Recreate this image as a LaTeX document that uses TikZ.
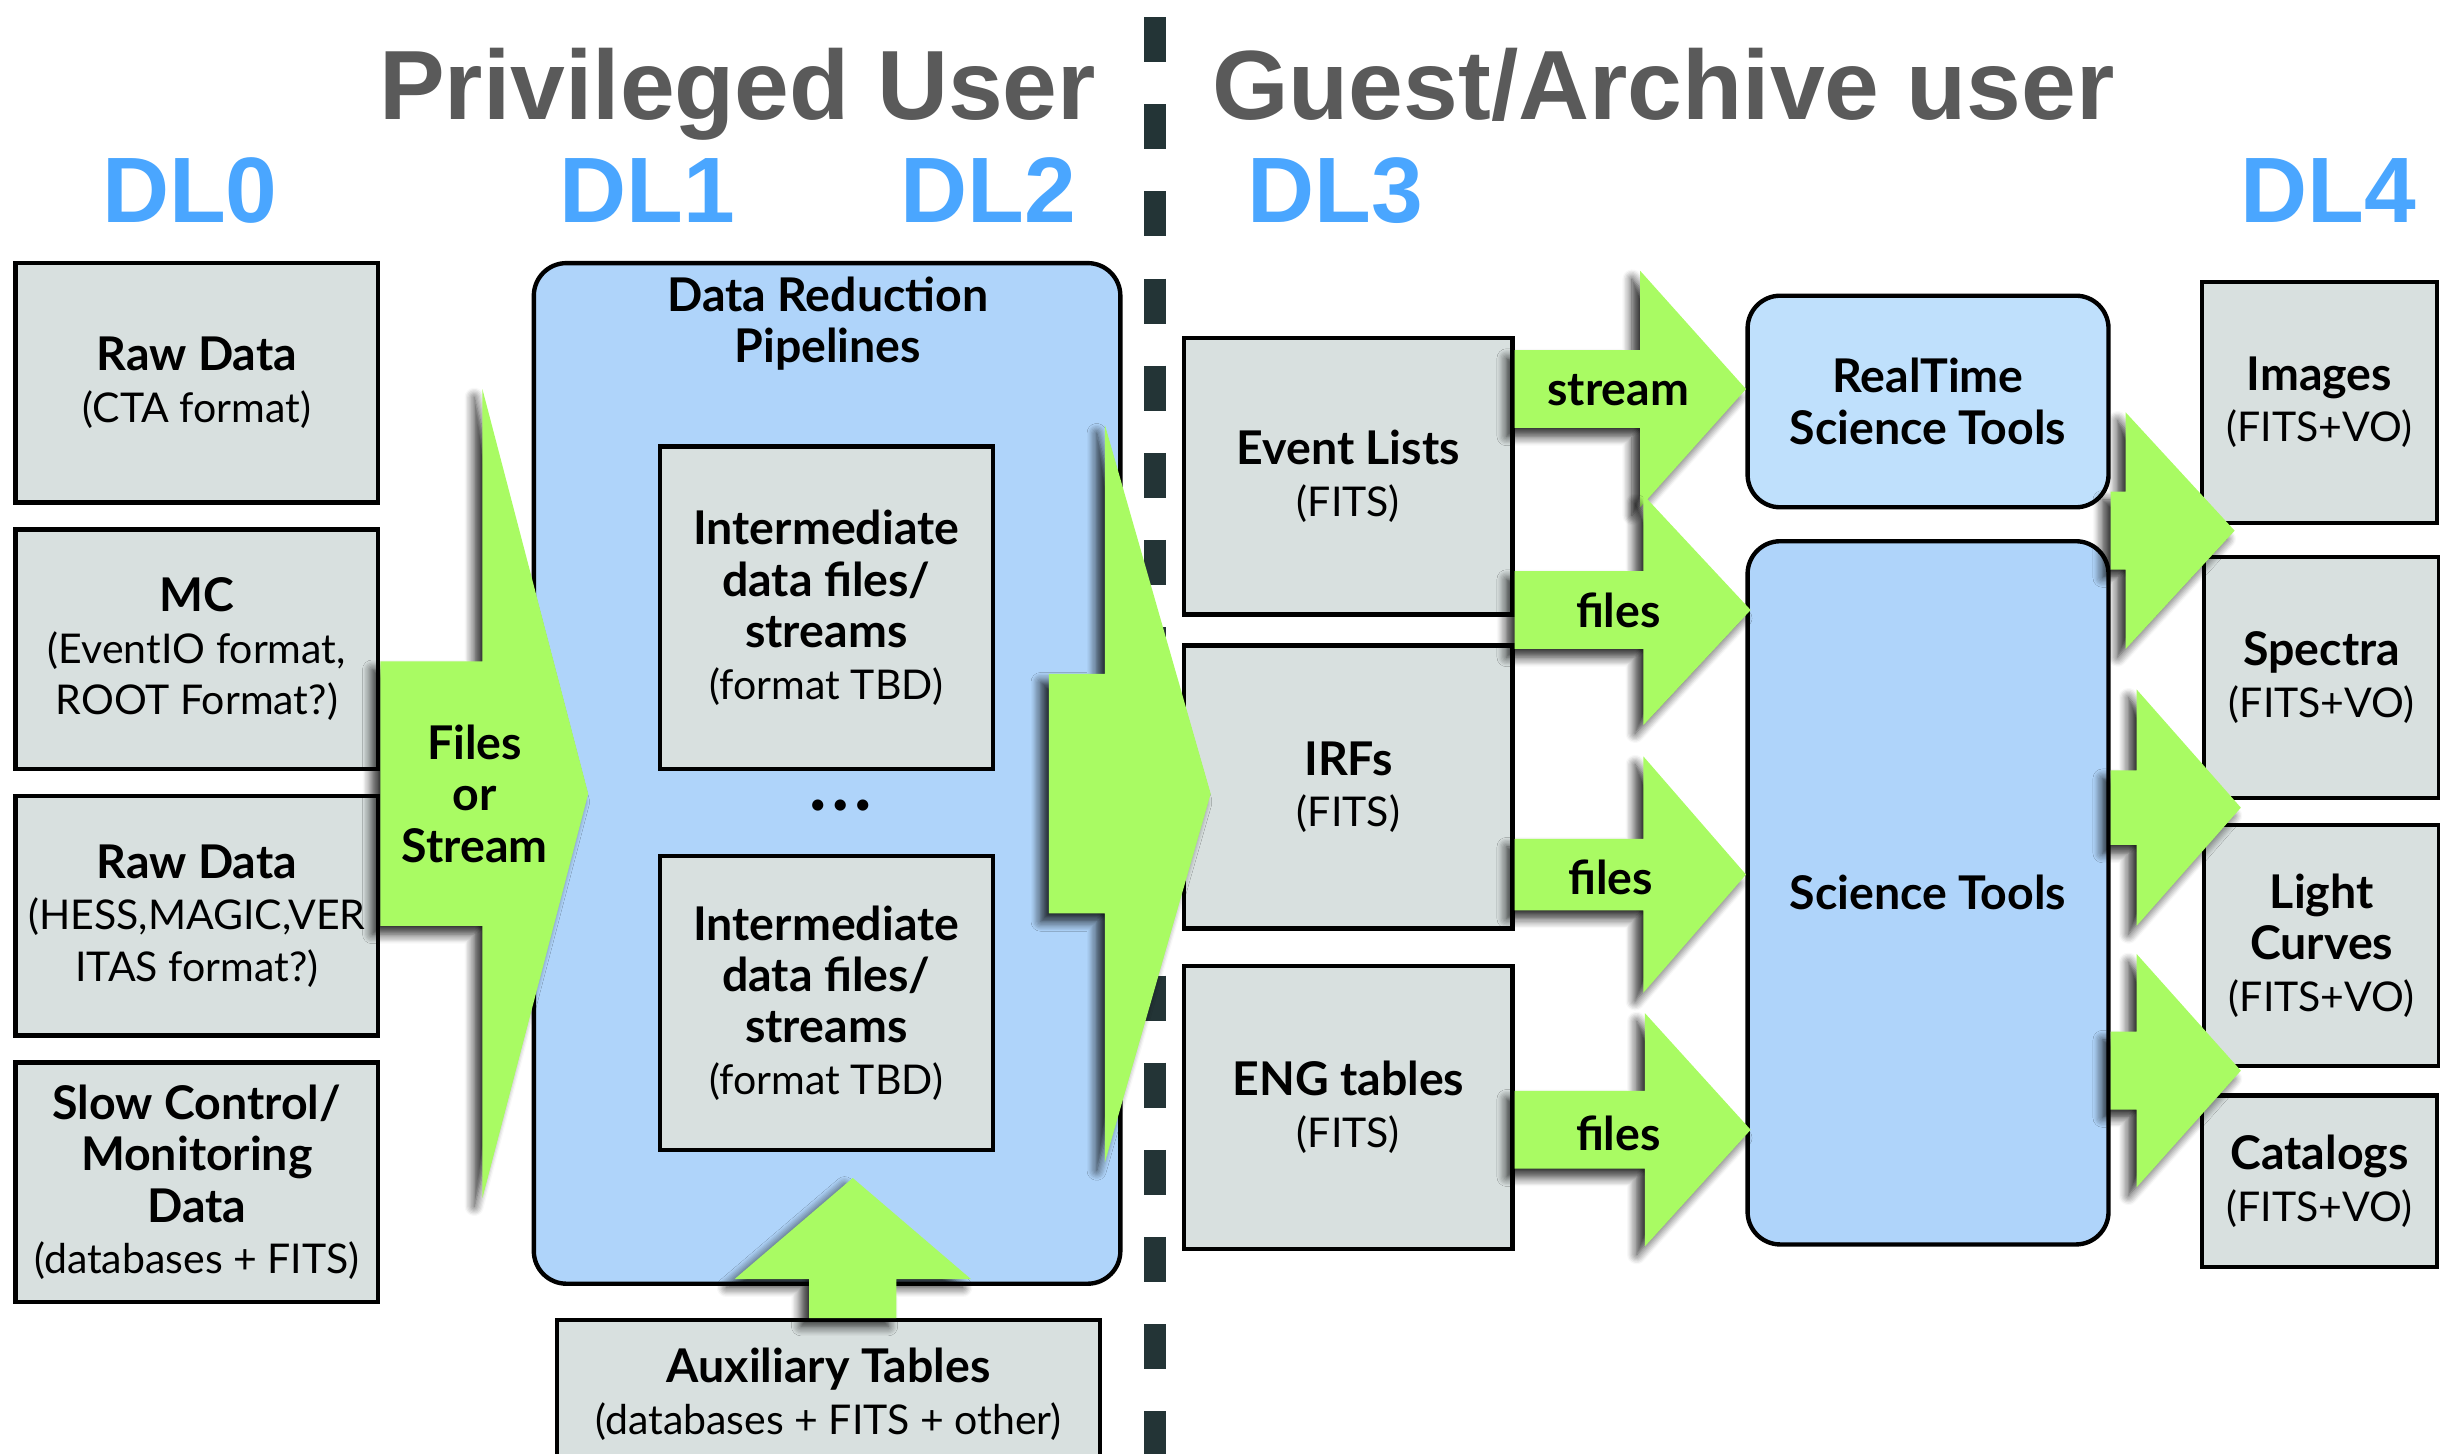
\documentclass[tikz,border=0pt]{standalone}
\usepackage{fontspec}
\setmainfont{Lato}
\newfontfamily\headfont{Liberation Sans}
\usetikzlibrary{positioning,calc,shadows.blur}

\definecolor{boxgray}{RGB}{216,224,223}
\definecolor{pipeblue}{RGB}{175,212,250}
\definecolor{rtblue}{RGB}{191,224,252}
\definecolor{flowgreen}{RGB}{169,251,99}
\definecolor{splitgray}{RGB}{35,52,54}
\definecolor{levelblue}{RGB}{74,166,255}
\definecolor{usergray}{RGB}{90,90,90}

\newcommand{\hd}[1]{{\fontsize{17}{18.8}\selectfont\bfseries #1}}
\newcommand{\flowarrow}[5]{%
  \fill[flow] (#1 |- #2) ++(0,-#4) -| ($(#2)+(-#3,-#5)$) -- (#2)
    -- ($(#2)+(-#3,#5)$) |- ($(#1 |- #2)+(0,#4)$) -- cycle;}

\begin{document}
\begin{tikzpicture}[x=0.02cm, y=-0.02cm,
		databox/.style={draw=black, line width=1.6pt, fill=boxgray, align=center, inner sep=2pt, font=\fontsize{15}{18.8}\selectfont},
		toolbox/.style={databox, fill=pipeblue, rounded corners=0.42cm},
		flow/.style={fill=flowgreen, blur shadow={shadow xshift=-3pt, shadow yshift=-3pt, shadow blur radius=3.5pt, shadow blur steps=8, shadow opacity=85}},
		flowtext/.style={font=\fontsize{17}{18.8}\selectfont\bfseries, align=center},
		level/.style={font=\headfont\bfseries\fontsize{34}{36}\selectfont, text=levelblue},
		role/.style={font=\headfont\bfseries\fontsize{36}{40}\selectfont, text=usergray}
	]
	\useasboundingbox (0,0) rectangle (1568,934);

	\coordinate (splittop) at (742,11);
	\coordinate (splitbot) at (742,960);
	\draw[splitgray, line width=0.28cm, dash pattern=on 0.58cm off 0.54cm] (splittop) -- (splitbot);

	\node[role, anchor=base] (privileged) at (474,77) {Privileged User};
	\node[role, anchor=base] (guest) at (1069,77) {Guest/Archive user};
	\node[level, anchor=base] (dl0) at (122,143) {DL0};
	\node[level, anchor=base] (dl1) at (416,143) {DL1};
	\node[level, anchor=base] (dl2) at (635,143) {DL2};
	\node[level, anchor=base] (dl3) at (858,143) {DL3};
	\node[level, anchor=base] (dl4) at (1496,143) {DL4};

	\node[databox, minimum width=4.66cm, minimum height=3.08cm] (raw) at (126.5,246) {\hd{Raw Data}\\(CTA format)};
	\node[databox, minimum width=4.66cm, minimum height=3.08cm, below=0.29cm of raw] (mc) {\hd{MC}\\(EventIO format,\\ROOT Format?)};
	\node[databox, minimum width=4.66cm, minimum height=3.08cm, below=0.29cm of mc] (hess) {\hd{Raw Data}\\(HESS,MAGIC,VER\\ITAS format?)};
	\node[databox, minimum width=4.66cm, minimum height=3.08cm, below=0.29cm of hess] (slow) {\hd{Slow Control/}\\\hd{Monitoring}\\\hd{Data}\\(databases + FITS)};

	\node[toolbox, minimum width=7.54cm, minimum height=13.12cm] (pipe) at (531.5,497) {};
	\node[flowtext] (pipetitle) at (532,208) {Data Reduction\\Pipelines};
	\node[databox, minimum width=4.28cm, minimum height=4.14cm] (inter1) at (531,390.5) {\hd{Intermediate}\\\hd{data files/}\\\hd{streams}\\(format TBD)};
	\node[font=\fontsize{11}{12}\selectfont] (dots) at (540,519) {\textbullet\,\textbullet\,\textbullet};
	\node[databox, minimum width=4.28cm, minimum height=3.78cm] (inter2) at (531,644.5) {\hd{Intermediate}\\\hd{data files/}\\\hd{streams}\\(format TBD)};
	\node[databox, minimum width=6.98cm, minimum height=1.9cm, anchor=north] (aux) at (532.5,847) {\hd{Auxiliary Tables}\\(databases + FITS + other)};

	\node[databox, minimum width=4.22cm, minimum height=3.56cm] (evt) at (866.5,306) {\hd{Event Lists}\\(FITS)};
	\node[databox, minimum width=4.22cm, minimum height=3.64cm, below=0.34cm of evt] (irf) {\hd{IRFs}\\(FITS)};
	\node[databox, minimum width=4.22cm, minimum height=3.64cm, below=0.42cm of irf] (eng) {\hd{ENG tables}\\(FITS)};

	\node[toolbox, fill=rtblue, minimum width=4.64cm, minimum height=2.72cm] (rt) at (1239,258) {\hd{RealTime}\\\hd{Science Tools}};
	\node[toolbox, minimum width=4.64cm, minimum height=9.04cm, below=0.38cm of rt] (st) {\hd{Science Tools}};

	\node[databox, minimum width=3.02cm, minimum height=3.1cm] (img) at (1490.5,258.5) {\hd{Images}\\(FITS+VO)};
	\node[databox, minimum width=3.02cm, minimum height=3.1cm] (spec) at (1492,435.5) {\hd{Spectra}\\(FITS+VO)};
	\node[databox, minimum width=3.02cm, minimum height=3.1cm] (lc) at (1492,607.5) {\hd{Light}\\\hd{Curves}\\(FITS+VO)};
	\node[databox, minimum width=3.02cm, minimum height=2.2cm] (cat) at (1490.5,759) {\hd{Catalogs}\\(FITS+VO)};

	\coordinate (fsTip) at (378,510);
	\coordinate (dlStart) at (674,510);
	\coordinate (dlTip) at (778,510);
	\coordinate (streamTip) at (1122,250);
	\coordinate (filesTipA) at (1125,392);
	\coordinate (filesTipB) at (1122,562);
	\coordinate (filesTipC) at (1125,726);
	\coordinate (outTipA) at (1436,341);
	\coordinate (outTipB) at (1440,519);
	\coordinate (outTipC) at (1440,688);
	\coordinate (auxTip) at (548,757);

	\flowarrow{raw.east}{fsTip}{68}{85}{260}
	\flowarrow{dlStart}{dlTip}{68}{77}{237}
	\flowarrow{evt.east}{streamTip}{68}{25}{76}
	\flowarrow{evt.east}{filesTipA}{69}{25}{74}
	\flowarrow{irf.east}{filesTipB}{66}{23}{76}
	\flowarrow{eng.east}{filesTipC}{68}{25}{75}
	\flowarrow{st.east}{outTipA}{70}{25}{76}
	\flowarrow{st.east}{outTipB}{67}{24}{76}
	\flowarrow{st.east}{outTipC}{67}{25}{75}
	\fill[flow] ($(auxTip |- aux.north)+(-28,0)$) |- ($(auxTip)+(-76,65)$) -- (auxTip)
		-- ($(auxTip)+(76,65)$) -| ($(auxTip |- aux.north)+(28,0)$) -- cycle;

	\node[flowtext] (fslabel) at (305,510) {Files\\or\\Stream};
	\node[flowtext] (streamlabel) at (1040,251) {stream};
	\node[flowtext] (fileslabelA) at (1040,392) {files};
	\node[flowtext] (fileslabelB) at (1035,564) {files};
	\node[flowtext] (fileslabelC) at (1040,728) {files};
\end{tikzpicture}
\end{document}
